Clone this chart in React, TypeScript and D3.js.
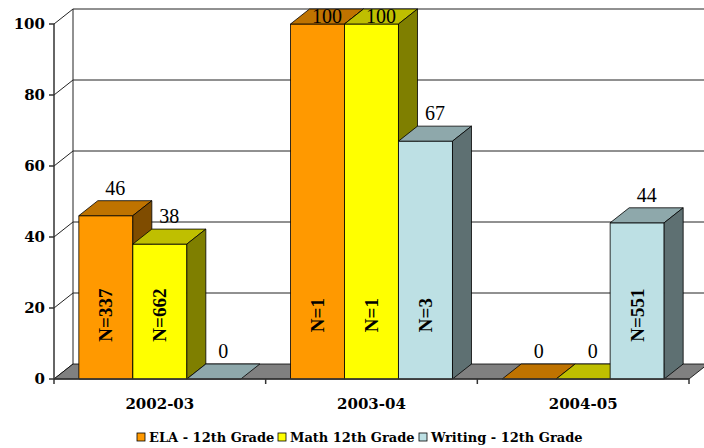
import React from "react";
import * as d3 from "d3";

const categories = ["2002-03", "2003-04", "2004-05"];
const seriesNames = ["ELA - 12th Grade", "Math 12th Grade", "Writing - 12th Grade"];
const elaValues = [46, 100, 0];
const mathValues = [38, 100, 0];
const writingValues = [0, 67, 44];
const elaN = ["N=337", "N=1", ""];
const mathN = ["N=662", "N=1", ""];
const writingN = ["", "N=3", "N=551"];
const yTicks = [0, 20, 40, 60, 80, 100];

const palette = [
  { front: "#FF9900", top: "#BF7300", side: "#7F4C00" },
  { front: "#FFFF00", top: "#BFBF00", side: "#7F7F00" },
  { front: "#BDE0E4", top: "#8EA8AB", side: "#5E7072" },
];

const W = 704;
const H = 448;
const DX = 19;
const DY = 15;

export default function App() {
  const x = d3.scaleBand<string>().domain(categories).range([54, 689]).paddingInner(0).paddingOuter(0);
  const inner = d3.scaleBand<string>().domain(seriesNames).range([0, x.bandwidth()]).paddingInner(0).paddingOuter(0.46);
  const y = d3.scaleLinear().domain([0, 100]).range([379, 24]);
  const values = [elaValues, mathValues, writingValues];
  const nLabels = [elaN, mathN, writingN];
  const x0 = 54;
  const x1 = 689;
  const y0 = y(0);
  const serif = "'DejaVu Serif', serif";
  const timesFont = "'Liberation Serif', serif";

  const bars: React.ReactNode[] = [];
  const labels: React.ReactNode[] = [];
  categories.forEach((cat, ci) => {
    seriesNames.forEach((s, si) => {
      const v = values[si][ci];
      const bx = (x(cat) as number) + (inner(s) as number);
      const bw = inner.bandwidth();
      const ty = y(v);
      const c = palette[si];
      const key = `${ci}-${si}`;
      bars.push(
        <g key={key} stroke="#000" strokeWidth={0.8} strokeLinejoin="round">
          {v > 0 && <rect x={bx} y={ty} width={bw} height={y0 - ty} fill={c.front} />}
          <polygon
            points={`${bx},${ty} ${bx + DX},${ty - DY} ${bx + bw + DX},${ty - DY} ${bx + bw},${ty}`}
            fill={c.top}
          />
          {v > 0 && (
            <polygon
              points={`${bx + bw},${ty} ${bx + bw + DX},${ty - DY} ${bx + bw + DX},${y0 - DY} ${bx + bw},${y0}`}
              fill={c.side}
            />
          )}
        </g>
      );
      const ly = Math.max(ty - DY - 6, 23);
      labels.push(
        <text key={"v" + key} x={bx + bw / 2 + DX / 2} y={ly} textAnchor="middle" fontFamily={timesFont} fontSize={20} fill="#000">
          {v}
        </text>
      );
      const n = nLabels[si][ci];
      if (n) {
        labels.push(
          <text
            key={"n" + key}
            transform={`translate(${bx + bw / 2},${y(18)}) rotate(-90)`}
            textAnchor="middle"
            dominantBaseline="central"
            fontFamily={timesFont}
            fontWeight="bold"
            fontSize={19}
            fill="#000"
          >
            {n}
          </text>
        );
      }
    });
  });

  const legendX = [137, 278, 419];

  return (
    <svg width={W} height={H} style={{ position: "absolute", left: 0, top: 0, background: "#fff" }}>
      {yTicks.map((t) => (
        <g key={"g" + t} stroke="#222" strokeWidth={1}>
          {t > 0 && <line x1={x0 + DX} x2={x1 + DX} y1={y(t) - DY} y2={y(t) - DY} />}
          <line x1={x0} x2={x0 + DX} y1={y(t)} y2={y(t) - DY} />
        </g>
      ))}
      <line x1={x0 + DX} x2={x0 + DX} y1={y(100) - DY} y2={y0 - DY} stroke="#222" strokeWidth={1} />
      <polygon
        points={`${x0},${y0} ${x0 + DX},${y0 - DY} ${x1 + DX},${y0 - DY} ${x1},${y0}`}
        fill="#808080"
        stroke="#000"
        strokeWidth={0.8}
      />
      {bars}
      <line x1={x0} x2={x0} y1={y(100)} y2={y0} stroke="#333" strokeWidth={1.5} />
      <line x1={x0} x2={x1} y1={y0} y2={y0} stroke="#333" strokeWidth={1.5} />
      {yTicks.map((t) => (
        <g key={"t" + t}>
          <line x1={x0 - 5} x2={x0} y1={y(t)} y2={y(t)} stroke="#333" strokeWidth={1.5} />
          <text x={45} y={y(t)} textAnchor="end" dominantBaseline="central" fontFamily={serif} fontWeight="bold" fontSize={15}>
            {t}
          </text>
        </g>
      ))}
      {[...categories.map((c) => x(c) as number), x1].map((px, i) => (
        <line key={"ct" + i} x1={px} x2={px} y1={y0} y2={y0 + 5} stroke="#333" strokeWidth={1.5} />
      ))}
      {categories.map((c) => (
        <text key={"cl" + c} x={(x(c) as number) + x.bandwidth() / 2} y={409} textAnchor="middle" fontFamily={serif} fontWeight="bold" fontSize={15}>
          {c}
        </text>
      ))}
      {labels}
      {seriesNames.map((s, i) => (
        <g key={"l" + s}>
          <rect x={legendX[i]} y={433} width={8} height={8} fill={palette[i].front} stroke="#000" strokeWidth={0.8} />
          <text x={legendX[i] + 12} y={442} fontFamily={serif} fontWeight="bold" fontSize={13}>
            {s}
          </text>
        </g>
      ))}
    </svg>
  );
}
